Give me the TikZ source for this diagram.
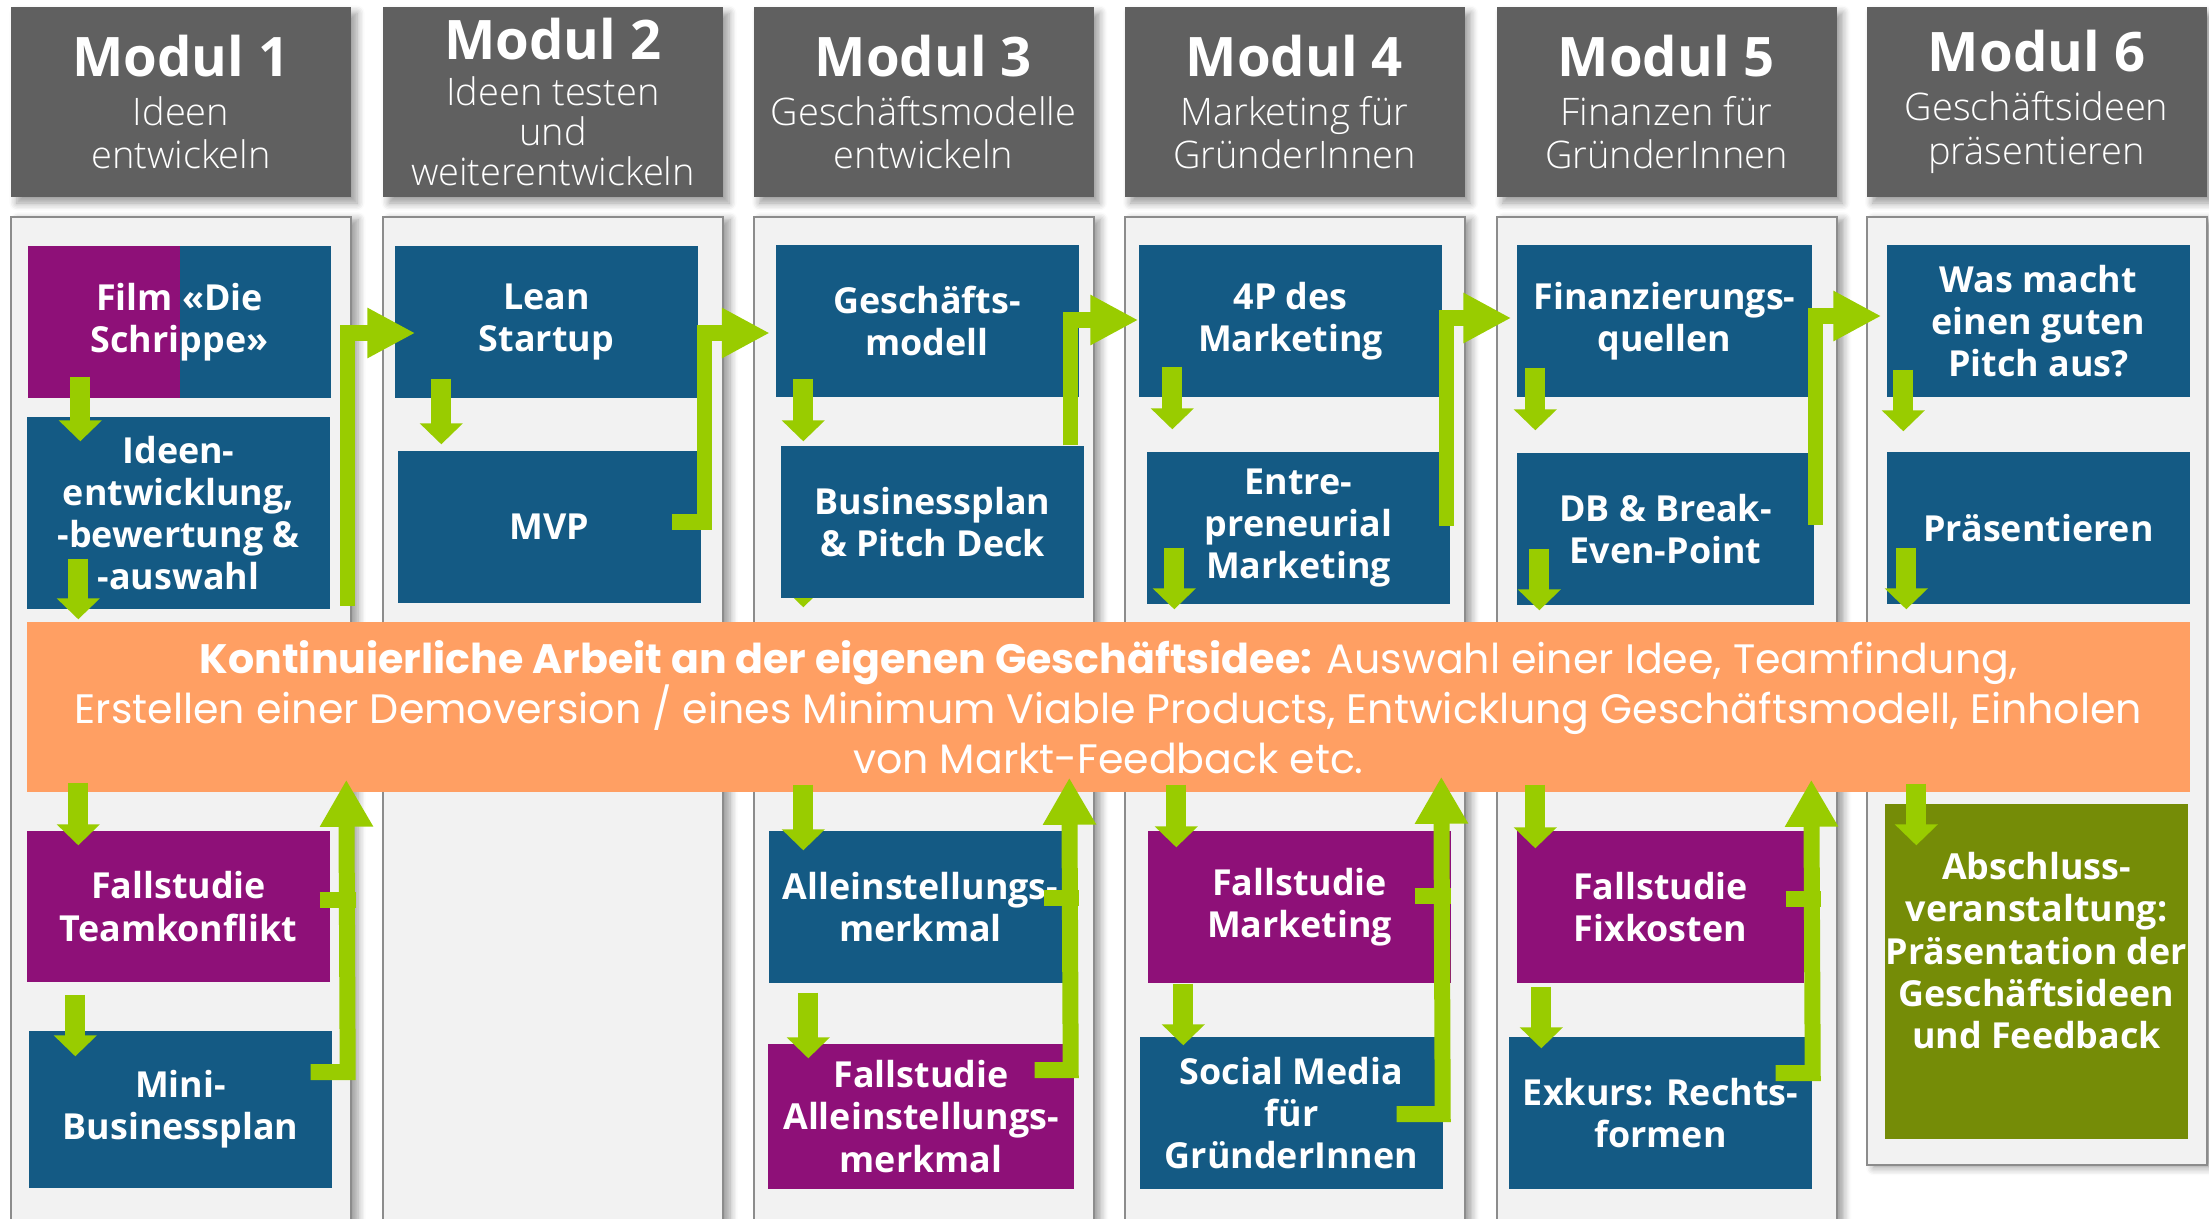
\documentclass[tikz,border=0pt]{standalone}
\usepackage{fontspec}
\setmainfont{Open Sans}
\IfFontExistsTF{Open Sans Light}{\newfontfamily\subfont{Open Sans Light}}{\newfontfamily\subfont{Open Sans}}
\newfontfamily\bandfont{Poppins}
\usetikzlibrary{arrows.meta, calc, positioning, shadows.blur}

\definecolor{modulgray}{RGB}{96,96,96}
\definecolor{panelgray}{RGB}{242,242,242}
\definecolor{panelline}{RGB}{140,140,140}
\definecolor{topicblue}{RGB}{20,90,132}
\definecolor{casepurple}{RGB}{142,16,120}
\definecolor{finalgreen}{RGB}{117,140,7}
\definecolor{flowgreen}{RGB}{153,204,0}
\definecolor{bandorange}{RGB}{255,159,99}

\tikzset{
    modulhead/.style={fill=modulgray, minimum width=3.4cm, minimum height=1.9cm, inner sep=0cm, text=white, align=center,
        font=\subfont\fontsize{10.8}{12.4}\selectfont, blur shadow={shadow xshift=0.06cm, shadow yshift=-0.06cm, shadow blur steps=6}},
    panel/.style={fill=panelgray, draw=panelline, line width=0.02cm, minimum width=3.4cm, inner sep=0cm, anchor=north,
        blur shadow={shadow xshift=0.07cm, shadow yshift=-0.03cm, shadow blur steps=6}},
    topic/.style={minimum width=3.03cm, minimum height=1.52cm, inner sep=0cm, text=white, align=center,
        font=\fontsize{10.2}{12}\selectfont\bfseries},
    downarrow/.style={flowgreen, line width=0.2cm, -{Triangle[width=0.42cm, length=0.21cm]}},
    nextarrow/.style={flowgreen, line width=0.155cm, line join=miter, -{Triangle[width=0.47cm, length=0.48cm]}},
    uparrow/.style={flowgreen, line width=0.16cm, line join=miter, -{Triangle[width=0.5cm, length=0.47cm]}},
    joint/.style={flowgreen, line width=0.16cm}
}

% header box of a module with its column below
\newcommand{\modul}[6][]{
    \node[modulhead, #1] (#2) at (#3, -1.02) {{\normalfont\fontsize{15.5}{18}\selectfont\bfseries Modul #4}\\[1.5pt]#5};
    \node[panel, minimum height=#6, below=0.18cm of #2] (#2-p) {};
}
\newcommand{\topic}[5][]{
    \node[topic, fill=#4, #1] (#2) at (#3) {#5};
}
% straight arrow down from one box to the next
\newcommand{\stepdown}[5]{
    \draw[downarrow] ($(#1.south -| #2.west) + (#3, #4)$) -- ($(#2.north west) + (#3, #5)$);
}

\begin{document}
\begin{tikzpicture}
    \useasboundingbox (0, 0) rectangle (22.09, -12.18);

    \modul{m1}{1.81}{1}{Ideen\\entwickeln}{10.15cm}
    \modul[font=\subfont\fontsize{10.8}{11.4}\selectfont]{m2}{5.53}{2}{Ideen testen\\und\\weiterentwickeln}{10.15cm}
    \modul{m3}{9.235}{3}{Geschäftsmodelle\\entwickeln}{10.15cm}
    \modul{m4}{12.945}{4}{Marketing für\\GründerInnen}{10.15cm}
    \modul{m5}{16.665}{5}{Finanzen für\\GründerInnen}{10.15cm}
    \modul{m6}{20.365}{6}{Geschäftsideen\\präsentieren}{9.48cm}

    \topic[path picture={\fill[casepurple] (path picture bounding box.south west) rectangle ++(1.52, 1.52);}]{film}{1.795, -3.22}{topicblue}{Film «Die\\Schrippe»}
    \topic[minimum height=1.92cm]{ideen}{1.785, -5.13}{topicblue}{Ideen-\\entwicklung,\\-bewertung \&\\-auswahl}
    \topic{lean}{5.465, -3.22}{topicblue}{Lean\\Startup}
    \topic{mvp}{5.495, -5.27}{topicblue}{MVP}
    \topic{gm}{9.27, -3.21}{topicblue}{Geschäfts-\\modell}
    \topic{bp}{9.325, -5.22}{topicblue}{Businessplan\\\& Pitch Deck}
    \topic{fourp}{12.905, -3.21}{topicblue}{4P des\\Marketing}
    \topic{entre}{12.985, -5.28}{topicblue}{Entre-\\preneurial\\Marketing}
    \topic[minimum width=2.95cm]{fin}{16.645, -3.21}{topicblue}{Finanzierungs-\\quellen}
    \topic[minimum width=2.97cm]{db}{16.655, -5.29}{topicblue}{DB \& Break-\\Even-Point}
    \topic{pitch}{20.385, -3.21}{topicblue}{Was macht\\einen guten\\Pitch aus?}
    \topic{praes}{20.385, -5.28}{topicblue}{Präsentieren}

    \node[fill=bandorange, minimum width=21.63cm, minimum height=1.7cm, inner sep=0cm, text=white, align=center,
        font=\bandfont\fontsize{11.7}{14.3}\selectfont] (band) at (11.085, -7.07)
        {{\bfseries Kontinuierliche Arbeit an der eigenen Geschäftsidee:} Auswahl einer Idee, Teamfindung,\\Erstellen einer Demoversion / eines Minimum Viable Products, Entwicklung Geschäftsmodell, Einholen\\von Markt-Feedback etc.};

    \topic[minimum height=1.51cm]{team}{1.785, -9.065}{casepurple}{Fallstudie\\Teamkonflikt}
    \topic[minimum height=1.57cm]{mini}{1.805, -11.095}{topicblue}{Mini-\\Businessplan}
    \topic{usp}{9.205, -9.07}{topicblue}{Alleinstellungs-\\merkmal}
    \topic[minimum width=3.06cm, minimum height=1.45cm]{uspcase}{9.21, -11.165}{casepurple}{Fallstudie\\Alleinstellungs-\\merkmal}
    \topic{mcase}{12.995, -9.07}{casepurple}{Fallstudie\\Marketing}
    \topic{social}{12.915, -11.13}{topicblue}{Social Media\\für\\GründerInnen}
    \topic[minimum width=2.87cm]{fix}{16.605, -9.07}{casepurple}{Fallstudie\\Fixkosten}
    \topic{exkurs}{16.605, -11.13}{topicblue}{Exkurs: Rechts-\\formen}
    \topic[minimum height=3.35cm]{final}{20.365, -9.715}{finalgreen}{Abschluss-\\veranstaltung:\\Präsentation der\\Geschäftsideen\\und Feedback\\\mbox{}}

    % steps inside the columns
    \stepdown{film}{ideen}{0.54}{0.22}{-0.25}
    \stepdown{ideen}{band}{0.52}{0.51}{0.02}
    \stepdown{band}{team}{0.52}{0.10}{-0.15}
    \stepdown{team}{mini}{0.47}{-0.12}{-0.26}
    \stepdown{lean}{mvp}{0.44}{0.20}{0.06}
    \stepdown{gm}{bp}{0.23}{0.19}{0.04}
    \begin{scope}
        \clip (bp.south west) rectangle (band.north east);
        \stepdown{bp}{band}{7.77}{0.30}{0.14}
    \end{scope}
    \stepdown{fourp}{entre}{0.26}{0.31}{0.22}
    \stepdown{entre}{band}{11.48}{0.57}{0.12}
    \stepdown{fin}{db}{0.19}{0.30}{0.22}
    \stepdown{db}{band}{15.13}{0.57}{0.11}
    \stepdown{pitch}{praes}{0.17}{0.28}{0.20}
    \stepdown{praes}{band}{18.80}{0.57}{0.12}
    \stepdown{band}{usp}{0.35}{0.08}{-0.20}
    \stepdown{usp}{uspcase}{0.41}{-0.09}{-0.15}
    \stepdown{band}{mcase}{0.29}{0.08}{-0.17}
    \stepdown{mcase}{social}{0.44}{0.00}{-0.09}
    \stepdown{band}{fix}{0.19}{0.08}{-0.18}
    \stepdown{fix}{exkurs}{0.33}{-0.03}{-0.12}
    \stepdown{band}{final}{0.32}{0.09}{-0.42}

    % on to the next module
    \draw[nextarrow] ([shift={(0.17, 0.04)}]ideen.south east) |- ([shift={(0.21, -0.11)}]lean.west);
    \draw[nextarrow] ([shift={(-0.30, 0.05)}]mvp.east) -- ++(0.33, 0) |- ([shift={(-0.05, -0.12)}]gm.west);
    \draw[nextarrow] ([xshift=-0.14cm]bp.north east) |- ([yshift=0.01cm]fourp.west);
    \draw[nextarrow] ([shift={(-0.04, 0.02)}]entre.east) |- ([shift={(-0.05, 0.03)}]fin.west);
    \draw[nextarrow] ([shift={(0.01, 0.04)}]db.east) |- ([shift={(-0.05, 0.05)}]pitch.west);

    % back up into the own business idea
    \draw[uparrow] ([shift={(-0.22, 0.375)}]mini.east) -- ++(0.37, 0) -- ($(band.south west) + (3.20, 0.13)$);
    \draw[joint] ([shift={(-0.11, 0.065)}]team.east) -- ++(0.36, 0);
    \draw[uparrow] ([shift={(-0.40, 0.465)}]uspcase.east) -- ++(0.36, 0) -- ($(band.south west) + (10.43, 0.15)$);
    \draw[joint] ([shift={(-0.29, 0.09)}]usp.east) -- ++(0.35, 0);
    \draw[uparrow] ([shift={(-0.47, -0.01)}]social.east) -- ++(0.46, 0) -- ($(band.south west) + (14.15, 0.16)$);
    \draw[joint] ([shift={(-0.37, 0.11)}]mcase.east) -- ++(0.36, 0);
    \draw[uparrow] ([shift={(-0.37, 0.40)}]exkurs.east) -- ++(0.37, 0) -- ($(band.south west) + (17.85, 0.13)$);
    \draw[joint] ([shift={(-0.19, 0.08)}]fix.east) -- ++(0.35, 0);
\end{tikzpicture}
\end{document}
